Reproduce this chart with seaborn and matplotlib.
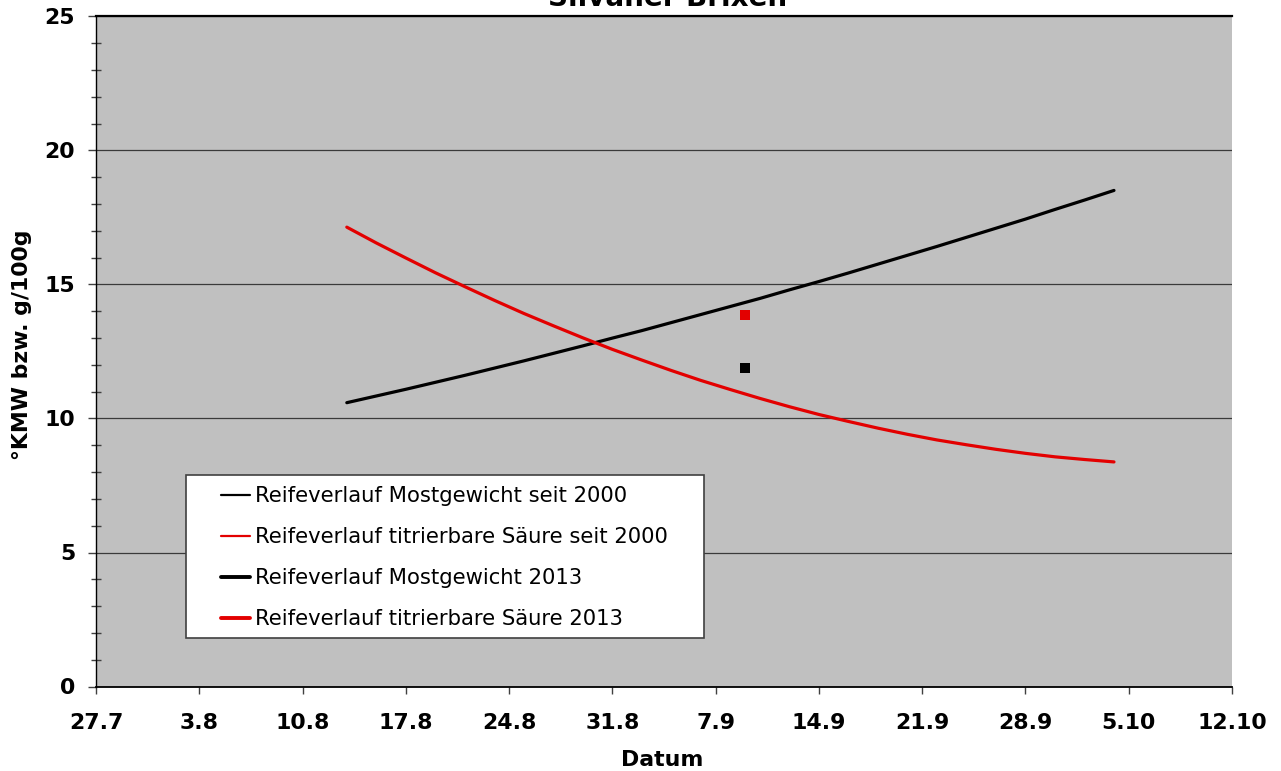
import numpy as np
import pandas as pd
import matplotlib
matplotlib.use("Agg")
import matplotlib.pyplot as plt
import matplotlib.dates as mdates
from matplotlib.lines import Line2D
from matplotlib.patches import Rectangle
import seaborn as sns

# ---------------- data ----------------
curve_dates = ["2013-08-13", "2013-08-15", "2013-08-17", "2013-08-19", "2013-08-21",
               "2013-08-23", "2013-08-25", "2013-08-27", "2013-08-29", "2013-08-31",
               "2013-09-02", "2013-09-04", "2013-09-06", "2013-09-08", "2013-09-10",
               "2013-09-12", "2013-09-14", "2013-09-16", "2013-09-18", "2013-09-20",
               "2013-09-22", "2013-09-24", "2013-09-26", "2013-09-28", "2013-09-30",
               "2013-10-02", "2013-10-04"]
mostgewicht_seit_2000 = [10.59, 10.84, 11.09, 11.35, 11.61, 11.88, 12.15, 12.43, 12.71,
                         13.00, 13.28, 13.58, 13.88, 14.18, 14.48, 14.80, 15.11, 15.43,
                         15.76, 16.09, 16.42, 16.76, 17.10, 17.44, 17.80, 18.15, 18.51]
saeure_seit_2000 = [17.14, 16.55, 15.99, 15.44, 14.92, 14.41, 13.92, 13.46, 13.01,
                    12.58, 12.18, 11.79, 11.42, 11.08, 10.75, 10.44, 10.15, 9.89,
                    9.64, 9.41, 9.20, 9.02, 8.85, 8.70, 8.57, 8.47, 8.38]

dates_2013 = ["2013-09-09"]
mostgewicht_2013 = [11.9]
saeure_2013 = [13.85]

tick_start = "2013-07-27"
tick_end = "2013-10-12"

title = "Silvaner Brixen"
xlabel = "Datum"
ylabel = "°KMW bzw. g/100g"
legend_labels = ["Reifeverlauf Mostgewicht seit 2000",
                 "Reifeverlauf titrierbare Säure seit 2000",
                 "Reifeverlauf Mostgewicht 2013",
                 "Reifeverlauf titrierbare Säure 2013"]

# ---------------- style ----------------
RED = "#E30000"
sns.set_style("ticks", {"axes.facecolor": "#C0C0C0"})
plt.rcParams["font.family"] = ["DejaVu Sans"]
plt.rcParams["text.color"] = "black"
plt.rcParams["xtick.labelcolor"] = "black"
plt.rcParams["ytick.labelcolor"] = "black"

W, H = 1281, 771
fig = plt.figure(figsize=(W / 100, H / 100), dpi=100)
left, right, top, bottom = 96, 1232, 16.5, 686.5
ax = fig.add_axes([left / W, 1 - bottom / H, (right - left) / W, (bottom - top) / H])

df_curve = pd.DataFrame({"Datum": pd.to_datetime(curve_dates),
                         "most": mostgewicht_seit_2000,
                         "saeure": saeure_seit_2000})
df_2013 = pd.DataFrame({"Datum": pd.to_datetime(dates_2013),
                        "most": mostgewicht_2013,
                        "saeure": saeure_2013})

sns.lineplot(data=df_curve, x="Datum", y="most", color="black", lw=2.3, ax=ax,
             legend=False, zorder=3)
sns.lineplot(data=df_curve, x="Datum", y="saeure", color=RED, lw=2.3, ax=ax,
             legend=False, zorder=3)
sns.scatterplot(data=df_2013, x="Datum", y="saeure", color=RED, marker="s", s=48,
                linewidth=0, ax=ax, legend=False, zorder=4)
sns.scatterplot(data=df_2013, x="Datum", y="most", color="black", marker="s", s=48,
                linewidth=0, ax=ax, legend=False, zorder=4)

# axes limits and ticks
xt = pd.date_range(tick_start, tick_end, freq="7D")
ax.set_xlim(mdates.date2num(xt[0]), mdates.date2num(xt[-1]))
ax.set_xticks(mdates.date2num(xt))
ax.xaxis.set_major_formatter(matplotlib.ticker.FuncFormatter(
    lambda v, p: f"{mdates.num2date(v).day}.{mdates.num2date(v).month}"))
ax.set_ylim(0, 25)
ax.set_yticks(np.arange(0, 26, 5))
ax.set_yticks(np.arange(0, 26, 1), minor=True)

ax.grid(axis="y", which="major", color="#3a3a3a", lw=0.9)
ax.set_axisbelow(True)
for s in ["left", "bottom", "top"]:
    ax.spines[s].set_visible(True)
    ax.spines[s].set_color("black")
ax.spines["left"].set_linewidth(1.0)
ax.spines["bottom"].set_linewidth(1.3)
ax.spines["top"].set_linewidth(1.6)
ax.spines["right"].set_visible(False)

ax.tick_params(axis="x", which="major", direction="out", length=5, width=1,
               color="#404040", pad=14, labelsize=15.8, labelcolor="black")
ax.tick_params(axis="y", which="major", direction="out", length=6, width=1,
               color="#404040", pad=9, labelsize=15.8, labelcolor="black")
ax.tick_params(axis="y", which="minor", direction="inout", length=7.5, width=1,
               color="#404040")
for lab in ax.get_xticklabels() + ax.get_yticklabels():
    lab.set_fontweight("bold")

ax.set_xlabel("")
ax.set_ylabel("")
fig.text(662.5 / W, 1 - 766 / H, xlabel, ha="center", va="baseline",
         fontsize=15.8, fontweight="bold", color="black")
fig.text(22 / W, 1 - 344.5 / H, ylabel, ha="center", va="center", rotation=90,
         fontsize=15.8, fontweight="bold", color="black")
fig.text(667.5 / W, 1 - 6 / H, title, ha="center", va="baseline",
         fontsize=20, fontweight="bold", color="black")

# legend box
lx0, lx1, ly0, ly1 = 186, 704, 475, 638
ax.add_patch(Rectangle(((lx0 - left) / (right - left), (bottom - ly1) / (bottom - top)),
                       (lx1 - lx0) / (right - left), (ly1 - ly0) / (bottom - top),
                       transform=ax.transAxes, facecolor="white", edgecolor="#404040",
                       lw=1.2, zorder=5))
handles = [Line2D([], [], color="black", lw=1.6),
           Line2D([], [], color=RED, lw=1.6),
           Line2D([], [], color="black", lw=2.8),
           Line2D([], [], color=RED, lw=2.8)]
leg = ax.legend(handles, legend_labels, loc="upper left",
                bbox_to_anchor=((226 - left) / (right - left) - 0.004,
                                (bottom - 486) / (bottom - top)),
                frameon=False, fontsize=15.2, handlelength=1.35, handletextpad=0.22,
                labelspacing=1.0, borderpad=0.0, borderaxespad=0.0)
for t in leg.get_texts():
    t.set_color("black")
leg.set_zorder(6)

fig.savefig("out.png", dpi=100)
